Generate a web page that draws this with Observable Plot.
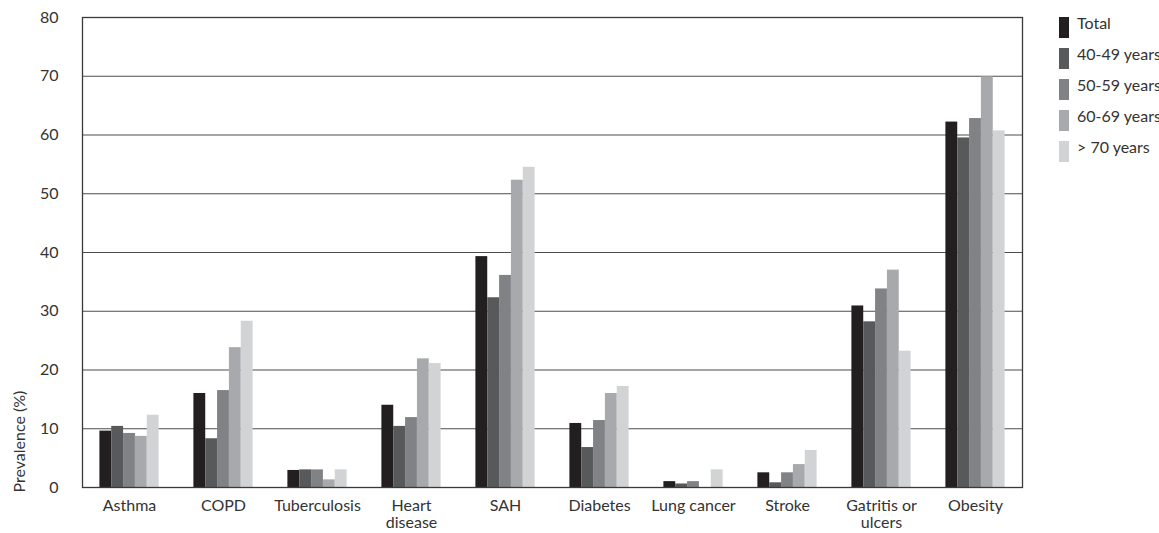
<!DOCTYPE html>
<html>
<head>
<meta charset="utf-8">
<script src="https://cdn.jsdelivr.net/npm/d3@7"></script>
<script src="https://cdn.jsdelivr.net/npm/@observablehq/plot@0.6"></script>
<style>
  html, body { margin: 0; padding: 0; background: #fff; }
  #wrap { position: relative; width: 1159px; height: 533px; font-family: Lato, "Open Sans", sans-serif; color: #333; }
  #chart { position: absolute; left: 0; top: 0; }
  #legend { position: absolute; left: 1059px; top: 17px; font-size: 16px; white-space: nowrap; }
  .row { display: flex; align-items: flex-start; height: 31px; }
  .sw { width: 10px; height: 21px; margin-right: 8px; flex: none; }
  .row span { line-height: 16px; margin-top: -2px; }
</style>
</head>
<body>
<div id="wrap"><div id="chart"></div><div id="legend"></div></div>
<script>
const categories = ["Asthma", "COPD", "Tuberculosis", "Heart\ndisease", "SAH", "Diabetes", "Lung cancer", "Stroke", "Gatritis or\nulcers", "Obesity"];
const seriesNames = ["Total", "40-49 years", "50-59 years", "60-69 years", "> 70 years"];
const total   = [9.6, 16.0, 2.9, 14.0, 39.3, 10.9, 1.0, 2.5, 30.9, 62.2];
const age4049 = [10.4, 8.3, 3.0, 10.4, 32.3, 6.8, 0.6, 0.8, 28.2, 59.5];
const age5059 = [9.2, 16.5, 3.0, 11.9, 36.1, 11.4, 1.0, 2.5, 33.8, 62.8];
const age6069 = [8.7, 23.8, 1.3, 21.9, 52.3, 16.0, null, 3.9, 37.0, 69.9];
const age70   = [12.3, 28.3, 3.0, 21.1, 54.5, 17.2, 3.0, 6.3, 23.2, 60.7];
const yTicks = [0, 10, 20, 30, 40, 50, 60, 70, 80];
const colors = ["#231f20", "#58595b", "#808285", "#a7a9ac", "#d1d3d4"];

const seriesValues = [total, age4049, age5059, age6069, age70];
const rows = [];
seriesValues.forEach((vals, i) => vals.forEach((v, j) => {
  if (v != null) rows.push({category: categories[j], series: seriesNames[i], value: v});
}));

const W = 1050, H = 533, mL = 82, mR = 28, mT = 17, mB = 46;
const bw = (W - mL - mR) / categories.length;
const groupW = bw * 0.63;
const off = (bw - groupW) / 2;
const barW = groupW / seriesNames.length;

const barMarks = seriesNames.map((s, i) => Plot.barY(rows.filter(d => d.series === s), {
  x: "category", y: "value", fill: colors[i],
  insetLeft: off + i * barW, insetRight: bw - off - (i + 1) * barW
}));

const plot = Plot.plot({
  width: W, height: H,
  marginLeft: mL, marginRight: mR, marginTop: mT, marginBottom: mB,
  style: {fontFamily: "Lato, 'Open Sans', sans-serif", fontSize: "16px", color: "#333", background: "#fff"},
  x: {domain: categories, padding: 0},
  y: {domain: [0, 80]},
  marks: [
    Plot.ruleY(yTicks.slice(1, -1), {stroke: "#4d4d4d", strokeWidth: 1.2}),
    ...barMarks,
    Plot.frame({stroke: "#3a3a3a", strokeWidth: 1.3}),
    Plot.axisX({tickSize: 0, tickPadding: 12, lineHeight: 1.05, label: null, fill: "#333"}),
    Plot.axisY({ticks: yTicks, tickSize: 0, tickPadding: 24, label: null, fill: "#333"}),
    Plot.text(["Prevalence (%)"], {frameAnchor: "bottom-left", rotate: -90, dx: -63, dy: 5, textAnchor: "start", lineAnchor: "middle", fill: "#333", fontSize: 16})
  ]
});
document.getElementById("chart").appendChild(plot);

const legend = document.getElementById("legend");
seriesNames.forEach((s, i) => {
  const row = document.createElement("div");
  row.className = "row";
  const sw = document.createElement("div");
  sw.className = "sw";
  sw.style.background = colors[i];
  const t = document.createElement("span");
  t.textContent = s;
  row.appendChild(sw); row.appendChild(t);
  legend.appendChild(row);
});
</script>
</body>
</html>
